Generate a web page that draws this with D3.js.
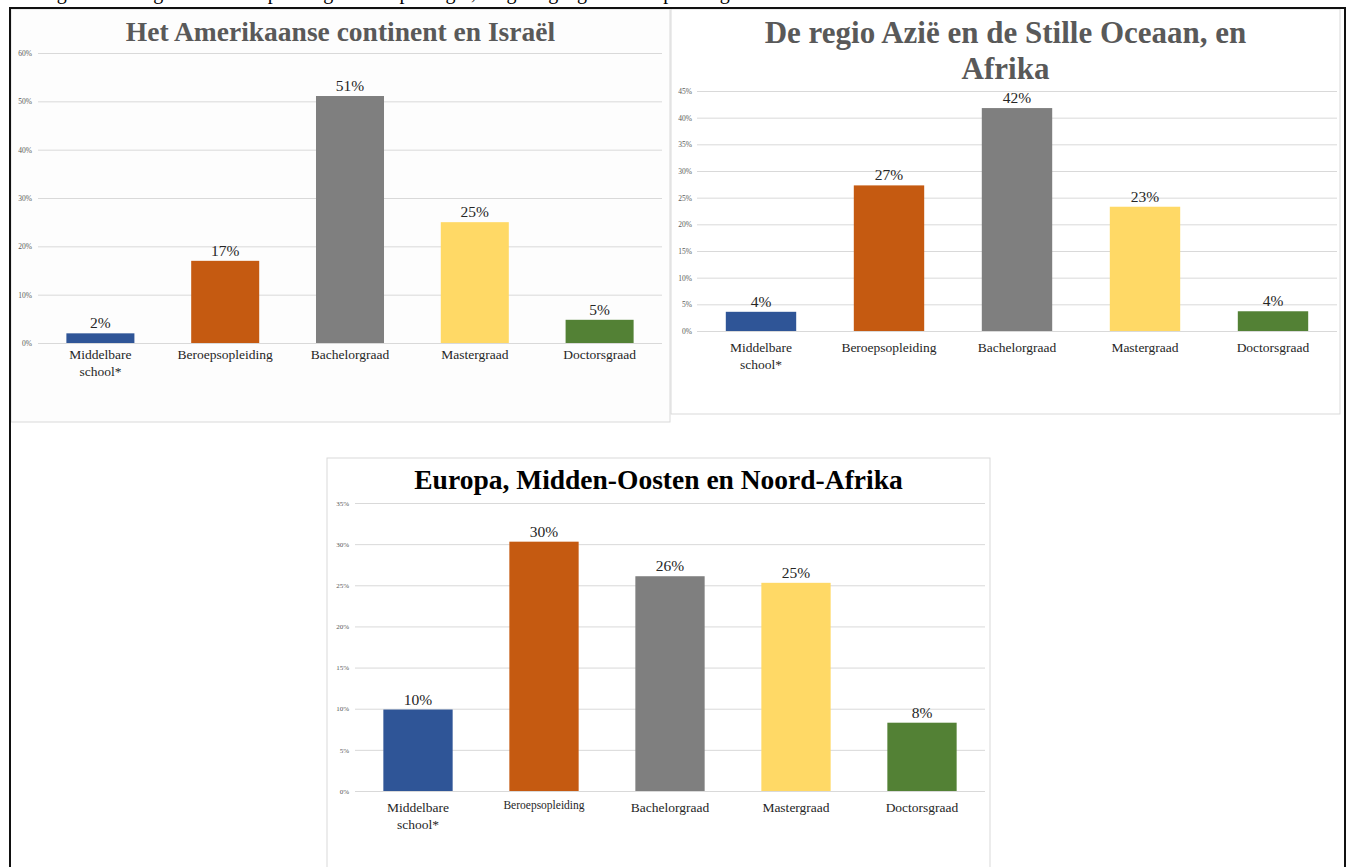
<!DOCTYPE html>
<html>
<head>
<meta charset="utf-8">
<script src="https://cdn.jsdelivr.net/npm/d3@7/dist/d3.min.js"></script>
<style>
  html, body { margin: 0; padding: 0; background: #ffffff; }
  svg { display: block; }
</style>
</head>
<body>
<svg id="chart" width="1347" height="867"></svg>
<script>
// ---------- DATA ----------
const categories = ["Middelbare school*", "Beroepsopleiding", "Bachelorgraad", "Mastergraad", "Doctorsgraad"];
const categoryLines = [["Middelbare", "school*"], ["Beroepsopleiding"], ["Bachelorgraad"], ["Mastergraad"], ["Doctorsgraad"]];
const barColors = ["#2f5597", "#c55a11", "#7f7f7f", "#ffd966", "#538135"];

const americasTitle = ["Het Amerikaanse continent en Israël"];
const americasValues = [2.0, 17.0, 51.1, 25.0, 4.8];
const americasLabels = ["2%", "17%", "51%", "25%", "5%"];
const americasTicks = [0, 10, 20, 30, 40, 50, 60];

const asiaTitle = ["De regio Azië en de Stille Oceaan, en", "Afrika"];
const asiaValues = [3.6, 27.3, 41.8, 23.3, 3.7];
const asiaLabels = ["4%", "27%", "42%", "23%", "4%"];
const asiaTicks = [0, 5, 10, 15, 20, 25, 30, 35, 40, 45];

const emeaTitle = ["Europa, Midden-Oosten en Noord-Afrika"];
const emeaValues = [9.9, 30.3, 26.1, 25.3, 8.3];
const emeaLabels = ["10%", "30%", "26%", "25%", "8%"];
const emeaTicks = [0, 5, 10, 15, 20, 25, 30, 35];

const captionText = "Figuur 2: Hoogst behaalde opleidingsniveau per regio, volgens geografische spreiding";

// ---------- DRAWING ----------
const svg = d3.select("#chart");
const serif = "'Liberation Serif', 'Times New Roman', serif";

// caption above the frame (cut off by the top edge, as in the screenshot)
svg.append("text")
  .attr("x", 40).attr("y", -1)
  .attr("font-family", serif).attr("font-size", 20)
  .attr("fill", "#000")
  .text(captionText);

function drawChart(cfg) {
  const g = svg.append("g");
  g.append("rect")
    .attr("x", cfg.panel.x).attr("y", cfg.panel.y)
    .attr("width", cfg.panel.w).attr("height", cfg.panel.h)
    .attr("fill", cfg.panelFill).attr("stroke", "#d9d9d9").attr("stroke-width", 1);

  const cx = cfg.panel.x + cfg.panel.w / 2;
  cfg.title.forEach((line, i) => {
    g.append("text")
      .attr("x", cx).attr("y", cfg.titleY + i * cfg.titleLineH)
      .attr("text-anchor", "middle")
      .attr("font-family", serif).attr("font-weight", "bold")
      .attr("font-size", cfg.titleSize).attr("fill", cfg.titleColor)
      .text(line);
  });

  const x = d3.scaleBand().domain(categories).range([cfg.x0, cfg.x1]).paddingInner(cfg.pad).paddingOuter(cfg.pad / 2);
  const y = d3.scaleLinear().domain([0, d3.max(cfg.ticks)]).range([cfg.yBase, cfg.yTop]);

  const axis = d3.axisLeft(y).tickValues(cfg.ticks).tickSize(-(cfg.x1 - cfg.x0)).tickPadding(cfg.tickPad)
    .tickFormat(d => d + "%");
  const ag = g.append("g").attr("transform", `translate(${cfg.x0},0)`).call(axis);
  ag.select(".domain").remove();
  ag.selectAll(".tick line").attr("stroke", "#d9d9d9").attr("stroke-width", 1);
  ag.selectAll(".tick text").attr("font-family", serif).attr("font-size", cfg.tickSize).attr("fill", "#595959");

  g.selectAll("rect.bar").data(cfg.values).enter().append("rect")
    .attr("class", "bar")
    .attr("x", (d, i) => x(categories[i]))
    .attr("width", x.bandwidth())
    .attr("y", d => y(d))
    .attr("height", d => y(0) - y(d))
    .attr("fill", (d, i) => barColors[i]);

  g.selectAll("text.dl").data(cfg.values).enter().append("text")
    .attr("class", "dl")
    .attr("x", (d, i) => x(categories[i]) + x.bandwidth() / 2)
    .attr("y", d => y(d) - 5)
    .attr("text-anchor", "middle")
    .attr("font-family", serif).attr("font-size", cfg.dlSize).attr("fill", "#262626")
    .text((d, i) => cfg.labels[i]);

  categoryLines.forEach((lines, i) => {
    const small = cfg.smallCat === i;
    lines.forEach((line, j) => {
      g.append("text")
        .attr("x", x(categories[i]) + x.bandwidth() / 2)
        .attr("y", cfg.catY + j * cfg.catLineH - (small ? 3 : 0))
        .attr("text-anchor", "middle")
        .attr("font-family", serif).attr("font-size", small ? cfg.catSize - 2 : cfg.catSize)
        .attr("fill", "#262626")
        .text(line);
    });
  });
}

drawChart({
  panel: { x: 11, y: 9, w: 659, h: 413 }, panelFill: "#fdfdfd",
  title: americasTitle, titleY: 41, titleLineH: 36, titleSize: 27.5, titleColor: "#595959",
  values: americasValues, labels: americasLabels, ticks: americasTicks,
  x0: 38, x1: 662, yBase: 343, yTop: 53, pad: 0.455, tickPad: 6, tickSize: 7.5,
  dlSize: 15.5, catY: 359, catLineH: 17, catSize: 13.5
});

drawChart({
  panel: { x: 671, y: 9, w: 669, h: 405 }, panelFill: "#ffffff",
  title: asiaTitle, titleY: 43, titleLineH: 36, titleSize: 31, titleColor: "#595959",
  values: asiaValues, labels: asiaLabels, ticks: asiaTicks,
  x0: 697, x1: 1337, yBase: 331, yTop: 91, pad: 0.45, tickPad: 5, tickSize: 7.5,
  dlSize: 15.5, catY: 352, catLineH: 17, catSize: 13.5
});

drawChart({
  panel: { x: 327, y: 458, w: 663, h: 420 }, panelFill: "#ffffff",
  title: emeaTitle, titleY: 489, titleLineH: 36, titleSize: 27.5, titleColor: "#000000",
  values: emeaValues, labels: emeaLabels, ticks: emeaTicks,
  x0: 355, x1: 985, yBase: 791, yTop: 503, pad: 0.45, tickPad: 6, tickSize: 7,
  dlSize: 15.5, catY: 812, catLineH: 17, catSize: 13.5, smallCat: 1
});

svg.append("path")
  .attr("d", "M10,870 L10,8 L1345,8 L1345,870")
  .attr("fill", "none").attr("stroke", "#111").attr("stroke-width", 2);
</script>
</body>
</html>
